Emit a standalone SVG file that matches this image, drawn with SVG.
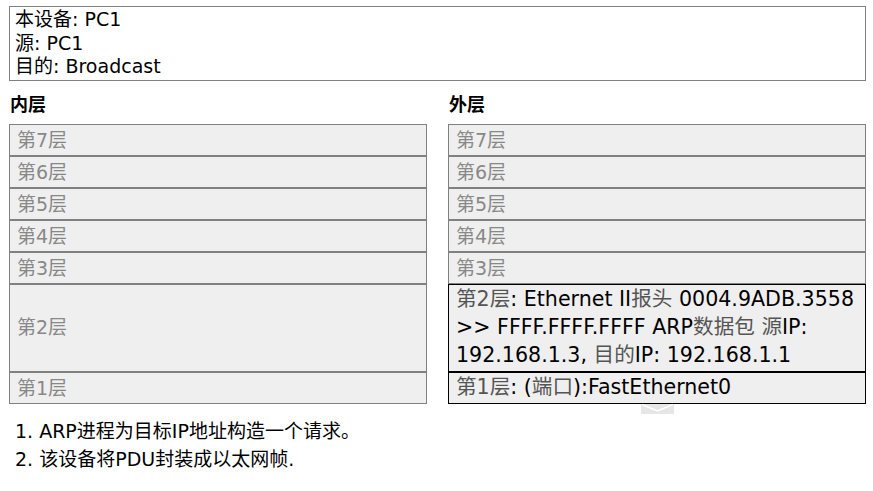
<svg xmlns="http://www.w3.org/2000/svg" width="873" height="491" viewBox="0 0 873 491">
<style>
text{font-family:"DejaVu Sans","Noto Sans CJK SC",sans-serif;font-size:19px;fill:#000}
.box{fill:#fff;stroke:#808080;stroke-width:1}
.row{fill:#efefef;stroke:#808080;stroke-width:1}
.act{fill:#efefef;stroke:#000;stroke-width:1}
.lbl{fill:#888}
.hd{font-weight:bold;font-size:18px}
.det{font-size:20.6px}
.zh{fill:#555}
</style>
<rect width="873" height="491" fill="#fff"/>
<g id="info">
<rect class="box" x="9.5" y="6.5" width="856" height="74"/>
<text x="15" y="26">本设备: PC1</text>
<text x="15" y="49.5">源: PC1</text>
<text x="15" y="73">目的: Broadcast</text>
</g>
<g id="inner-header"><text class="hd" x="10" y="111">内层</text></g>
<g id="outer-header"><text class="hd" x="449" y="111">外层</text></g>
<g id="in-l7"><rect class="row" x="9.5" y="124.5" width="417" height="31"/><text class="lbl" x="17" y="147">第7层</text></g>
<g id="in-l6"><rect class="row" x="9.5" y="156.5" width="417" height="31"/><text class="lbl" x="17" y="179">第6层</text></g>
<g id="in-l5"><rect class="row" x="9.5" y="188.5" width="417" height="31"/><text class="lbl" x="17" y="211">第5层</text></g>
<g id="in-l4"><rect class="row" x="9.5" y="220.5" width="417" height="31"/><text class="lbl" x="17" y="243">第4层</text></g>
<g id="in-l3"><rect class="row" x="9.5" y="252.5" width="417" height="31"/><text class="lbl" x="17" y="275">第3层</text></g>
<g id="in-l2"><rect class="row" x="9.5" y="284.5" width="417" height="87"/><text class="lbl" x="17" y="334">第2层</text></g>
<g id="in-l1"><rect class="row" x="9.5" y="372.5" width="417" height="31"/><text class="lbl" x="17" y="395">第1层</text></g>
<g id="out-l7"><rect class="row" x="448.5" y="124.5" width="417" height="31"/><text class="lbl" x="456" y="147">第7层</text></g>
<g id="out-l6"><rect class="row" x="448.5" y="156.5" width="417" height="31"/><text class="lbl" x="456" y="179">第6层</text></g>
<g id="out-l5"><rect class="row" x="448.5" y="188.5" width="417" height="31"/><text class="lbl" x="456" y="211">第5层</text></g>
<g id="out-l4"><rect class="row" x="448.5" y="220.5" width="417" height="31"/><text class="lbl" x="456" y="243">第4层</text></g>
<g id="out-l3"><rect class="row" x="448.5" y="252.5" width="417" height="31"/><text class="lbl" x="456" y="275">第3层</text></g>
<g id="out-l2"><rect class="act" x="448.5" y="284.5" width="417" height="87"/>
<text class="det" x="456" y="306"><tspan class="zh">第2层</tspan>: Ethernet II<tspan class="zh">报头</tspan> 0004.9ADB.3558</text>
<text class="det" x="456" y="334">&gt;&gt; FFFF.FFFF.FFFF ARP<tspan class="zh">数据包</tspan> <tspan class="zh">源</tspan>IP:</text>
<text class="det" x="456" y="362">192.168.1.3, <tspan class="zh">目的</tspan>IP: 192.168.1.1</text>
</g>
<g id="out-l1"><rect class="act" x="448.5" y="372.5" width="417" height="31"/>
<text class="det" x="456" y="394"><tspan class="zh">第1层</tspan>: (<tspan class="zh">端口</tspan>):FastEthernet0</text>
</g>
<g id="scroll">
<rect x="641" y="404" width="33" height="10" fill="#e6e6e6"/>
<path d="M642 404.5 L657.5 411 L673 404.5" fill="none" stroke="#fff" stroke-width="1.5"/>
</g>
<g id="notes">
<text x="15" y="438" font-size="19.5">1. ARP进程为目标IP地址构造一个请求。</text>
<text x="15" y="466" font-size="19.5">2. 该设备将PDU封装成以太网帧.</text>
</g>
<g id="connectors"/>
</svg>
